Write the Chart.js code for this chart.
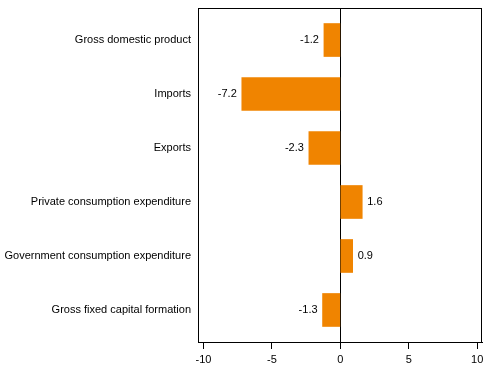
<!DOCTYPE html>
<html>
<head>
<meta charset="utf-8">
<script src="https://cdn.jsdelivr.net/npm/chart.js@4"></script>
<style>
  html, body { margin: 0; padding: 0; background: #fff; }
  #wrap { width: 491px; height: 377px; }
</style>
</head>
<body>
<div id="wrap"><canvas id="chart"></canvas></div>
<script>
const CATEGORIES = [
    'Gross domestic product',
    'Imports',
    'Exports',
    'Private consumption expenditure',
    'Government consumption expenditure',
    'Gross fixed capital formation',
];
const VALUES = [-1.2, -7.2, -2.3, 1.6, 0.9, -1.3];
const X_TICKS = [-10, -5, 0, 5, 10];
const BAR_COLOR = 'rgb(240 132 0)';

const frame = {
    id: 'frame',
    afterDraw(chart) {
        const { ctx, chartArea: a } = chart;
        ctx.save();
        ctx.strokeStyle = '#000';
        ctx.lineWidth = 1;
        ctx.strokeRect(Math.round(a.left) + 0.5, Math.round(a.top) + 0.5,
            Math.round(a.right - a.left) - 1, Math.round(a.bottom - a.top));
        ctx.restore();
    }
};

const valueLabels = {
    id: 'valueLabels',
    afterDatasetsDraw(chart) {
        const { ctx } = chart;
        const meta = chart.getDatasetMeta(0);
        ctx.save();
        ctx.font = '11px "Liberation Sans", Arial, sans-serif';
        ctx.fillStyle = '#000';
        ctx.textBaseline = 'middle';
        meta.data.forEach((bar, i) => {
            const v = VALUES[i];
            const txt = v.toFixed(1);
            if (v < 0) {
                ctx.textAlign = 'right';
                ctx.fillText(txt, bar.x - 5, bar.y);
            } else {
                ctx.textAlign = 'left';
                ctx.fillText(txt, bar.x + 5, bar.y);
            }
        });
        ctx.restore();
    }
};

new Chart(
    document.getElementById('chart'),
    {
        type: 'bar',
        data: {
            datasets: [
                {
                    data: VALUES.map((v, i) => ({ x: v, y: i })),
                    backgroundColor: BAR_COLOR,
                    borderWidth: 0,
                    barThickness: 33,
                },
            ]
        },
        options: {
            indexAxis: 'y',
            responsive: true,
            maintainAspectRatio: false,
            animation: false,
            layout: { padding: { left: 0, right: 9, top: 8, bottom: 0 } },
            scales: {
                x: {
                    type: 'linear',
                    min: -10.4,
                    max: 10.35,
                    afterBuildTicks: scale => {
                        scale.ticks = X_TICKS.map(v => ({ value: v }));
                    },
                    afterFit: scale => { scale.height = 35; },
                    border: { display: true, color: '#000' },
                    grid: {
                        drawOnChartArea: true,
                        color: ctx => ctx.tick && ctx.tick.value === 0 ? '#000' : 'rgba(0,0,0,0)',
                        tickColor: '#000',
                        tickLength: 7,
                    },
                    ticks: {
                        color: '#000',
                        padding: 4,
                        font: { family: '"Liberation Sans", Arial, sans-serif', size: 11 },
                    },
                },
                y: {
                    type: 'linear',
                    reverse: true,
                    offset: false,
                    min: -0.593,
                    max: 5.593,
                    afterBuildTicks: scale => {
                        scale.ticks = CATEGORIES.map((c, i) => ({ value: i }));
                    },
                    afterFit: scale => {
                        scale.width = 198;
                        scale.paddingTop = 0;
                        scale.paddingBottom = 0;
                    },
                    border: { display: true, color: '#000' },
                    grid: { display: false, drawTicks: false, offset: false },
                    ticks: {
                        color: '#000',
                        padding: 7,
                        autoSkip: false,
                        callback: v => CATEGORIES[v],
                        font: { family: '"Liberation Sans", Arial, sans-serif', size: 11 },
                    },
                },
            },
            plugins: {
                legend: { display: false },
                tooltip: { enabled: false },
            }
        },
        plugins: [frame, valueLabels]
    }
);
</script>
</body>
</html>
